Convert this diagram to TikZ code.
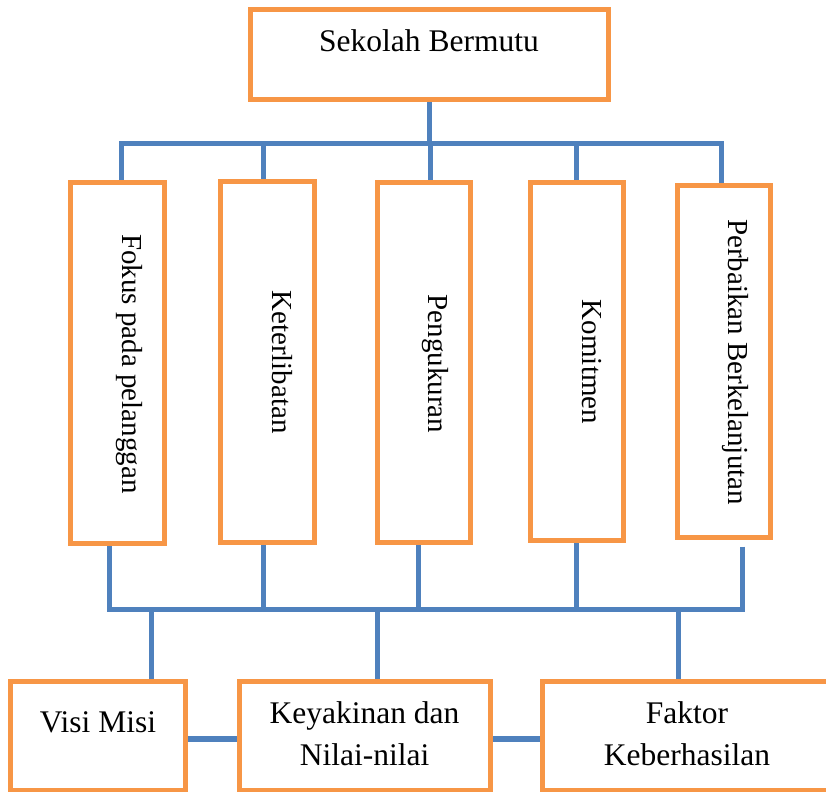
\documentclass[tikz,border=0pt]{standalone}
\usepackage{fontspec}
\setmainfont{Liberation Serif}
\usetikzlibrary{calc}
\definecolor{boxorange}{HTML}{F79646}
\definecolor{lineblue}{HTML}{4F81BD}
\begin{document}
\begin{tikzpicture}[x=0.5pt,y=-0.5pt,
  box/.style={draw=boxorange, line width=2.5pt, fill=white, inner sep=0pt},
  conn/.style={draw=lineblue, line width=2.5pt, line cap=rect},
  htext/.style={font=\fontsize{15.75}{21}\selectfont, align=center, inner sep=0pt},
  vtext/.style={font=\fontsize{14.5}{17}\selectfont, rotate=-90, anchor=base, inner sep=0pt}]
\clip (0,0) rectangle (826,792);
\fill[white] (0,0) rectangle (826,792);

% junction coordinates
\coordinate (tj1) at (121,144);
\coordinate (tj2) at (263,144);
\coordinate (tj3) at (430,144);
\coordinate (tj4) at (576,144);
\coordinate (tj5) at (721,144);
\coordinate (bj1) at (109,609);
\coordinate (bj2) at (263,609);
\coordinate (bj3) at (418,609);
\coordinate (bj4) at (576,609);
\coordinate (bj5) at (742,609);
\coordinate (dj1) at (151,609);
\coordinate (dj2) at (377,609);
\coordinate (dj3) at (678,609);

% boxes (positions)
\path
  (429,54.5) node[box, minimum width=179pt, minimum height=45pt] (top) {}
  (117,363) node[box, minimum width=47pt, minimum height=180pt] (b1) {}
  (267,362) node[box, minimum width=47pt, minimum height=180pt] (b2) {}
  (423.5,362.5) node[box, minimum width=46.5pt, minimum height=179.5pt] (b3) {}
  (576.5,361.5) node[box, minimum width=46.5pt, minimum height=178.5pt] (b4) {}
  (723.5,361.5) node[box, minimum width=46.5pt, minimum height=175.5pt] (b5) {}
  (97.5,735.5) node[box, minimum width=87.5pt, minimum height=54.5pt] (visi) {}
  (364.5,735.5) node[box, minimum width=125.5pt, minimum height=54.5pt] (keya) {}
  (687,735.5) node[box, minimum width=145pt, minimum height=54.5pt] (faktor) {};

% connectors
\draw[conn] (tj1) -- (tj5);
\draw[conn] (top.south) -- (top.south |- tj3);
\draw[conn] (tj1) -- (tj1 |- b1.north);
\draw[conn] (tj2) -- (tj2 |- b2.north);
\draw[conn] (tj3) -- (tj3 |- b3.north);
\draw[conn] (tj4) -- (tj4 |- b4.north);
\draw[conn] (tj5) -- (tj5 |- b5.north);
\draw[conn] (bj1) -- (bj5);
\draw[conn] (bj1 |- b1.south) -- (bj1);
\draw[conn] (bj2 |- b2.south) -- (bj2);
\draw[conn] (bj3 |- b3.south) -- (bj3);
\draw[conn] (bj4 |- b4.south) -- (bj4);
\draw[conn, line cap=butt] ($(bj5 |- b5.south)+(0,7)$) -- (bj5);
\draw[conn] (dj1) -- (dj1 |- visi.north);
\draw[conn] (dj2) -- (dj2 |- keya.north);
\draw[conn] (dj3) -- (dj3 |- faktor.north);
\draw[conn, line width=2.9pt] ([yshift=-1.75pt]visi.east) -- ([yshift=-1.75pt]keya.west);
\draw[conn, line width=2.9pt] ([yshift=-1.75pt]keya.east) -- ([yshift=-1.75pt]faktor.west);

% boxes drawn over connector ends
\path
  (429,54.5) node[box, minimum width=179pt, minimum height=45pt] {}
  (117,363) node[box, minimum width=47pt, minimum height=180pt] {}
  (267,362) node[box, minimum width=47pt, minimum height=180pt] {}
  (423.5,362.5) node[box, minimum width=46.5pt, minimum height=179.5pt] {}
  (576.5,361.5) node[box, minimum width=46.5pt, minimum height=178.5pt] {}
  (723.5,361.5) node[box, minimum width=46.5pt, minimum height=175.5pt] {}
  (97.5,735.5) node[box, minimum width=87.5pt, minimum height=54.5pt] {}
  (364.5,735.5) node[box, minimum width=125.5pt, minimum height=54.5pt] {}
  (687,735.5) node[box, minimum width=145pt, minimum height=54.5pt] {};

% texts
\node[htext, anchor=base] (ttop) at (429,52) {Sekolah Bermutu};
\node[vtext] (t1) at (122,364) {Fokus pada pelanggan};
\node[vtext] (t2) at (272,362) {Keterlibatan};
\node[vtext] (t3) at (428,364) {Pengukuran};
\node[vtext] (t4) at (582,362) {Komitmen};
\node[vtext] (t5) at (728,362) {Perbaikan Berkelanjutan};
\node[htext, anchor=base] (tvisi) at (98,732) {Visi Misi};
\node[htext] (tkeya) at (364.5,734) {Keyakinan dan\\Nilai-nilai};
\node[htext] (tfaktor) at (687,734) {Faktor\\Keberhasilan};
\end{tikzpicture}
\end{document}
